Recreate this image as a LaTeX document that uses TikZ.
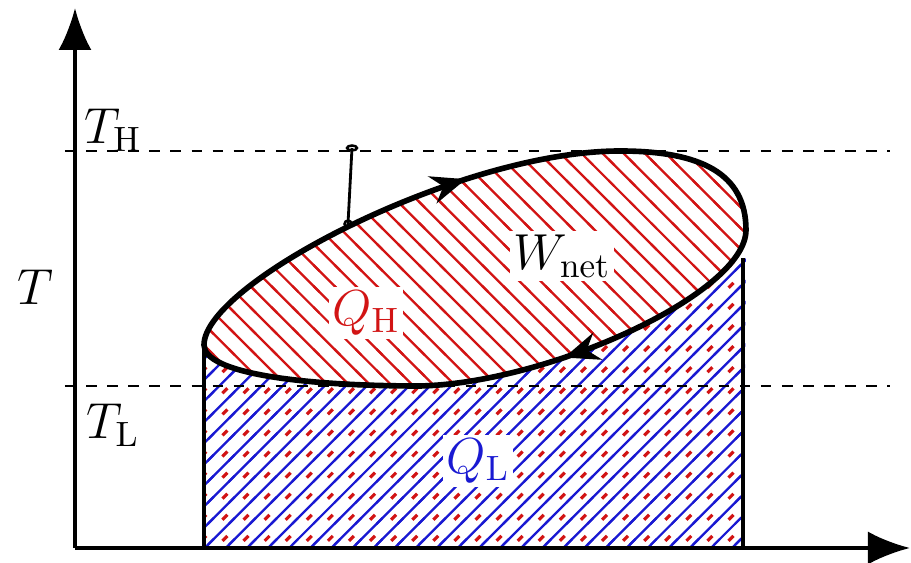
\documentclass[tikz,border=0pt]{standalone}
\usepackage{amsmath,amssymb}
\usepackage{tikz}
\usetikzlibrary{arrows.meta,patterns.meta,decorations.markings}
\definecolor{heatred}{RGB}{210, 20, 20}
\definecolor{heatblue}{RGB}{25, 25, 210}

% hatching of the two areas
\tikzdeclarepattern{
  name=hothatch,
  type=colored,
  bounding box={(-1pt,-1pt) and (7pt,7pt)},
  tile size={(6pt,6pt)},
  code={
    \draw[heatred, line width=0.65pt] (-1pt,7pt) -- (7pt,-1pt);
  }
}
\tikzdeclarepattern{
  name=coldhatch,
  type=colored,
  bounding box={(-1pt,-1pt) and (7pt,7pt)},
  tile size={(6pt,6pt)},
  code={
    \draw[heatblue, line width=0.65pt] (-1pt,-1pt) -- (7pt,7pt);
    \draw[heatred, line width=0.9pt] (3.3pt,0.3pt) -- (4.7pt,1.7pt);
  }
}

\tikzset{
  axisline/.style={line width=1pt, -{Latex[length=4.2mm,width=3.3mm]}},
  levelline/.style={dashed, line width=0.7pt},
  cycleline/.style={line width=1.6pt, postaction={decorate},
    decoration={markings,
      mark=at position 0.255 with {\arrow{Stealth[length=3.5mm,width=2.8mm]}},
      mark=at position 0.70 with {\arrow{Stealth[length=3.5mm,width=2.8mm]}}}},
  heatlabel/.style={fill=white, inner sep=1pt, font=\Large}
}

\begin{document}
\begin{tikzpicture}
  \useasboundingbox (0,0) rectangle (9.11,5.63);
  % corners of the cycle
  \coordinate (left) at (2.04,2.18);
  \coordinate (top) at (6.2,4.12);
  \coordinate (right) at (7.46,3.33);
  \coordinate (bottom) at (4.2,1.77);
  \coordinate (origin) at (0.75,0.15);

  % heat rejected: area under the lower branch
  \fill[pattern=coldhatch]
    (2.04,0.15) -- (left) .. controls (2.04,1.9) and (3.0,1.77) .. (bottom)
    .. controls (5.5,1.8) and (7.46,2.7) .. (right) -- (7.44,0.15) -- cycle;
  % net work: inside the cycle
  \fill[pattern=hothatch]
    (left) .. controls (2.04,2.8) and (4.6,4.12) .. (top)
    .. controls (7.0,4.12) and (7.46,3.9) .. (right)
    .. controls (7.46,2.7) and (5.5,1.8) .. (bottom)
    .. controls (3.0,1.77) and (2.04,1.9) .. (left);

  % temperature levels
  \draw[levelline] (0.65,4.12) -- (8.9,4.12);
  \draw[levelline] (0.65,1.77) -- (8.9,1.77);

  % sides of the area
  \draw[line width=1pt] (2.04,0.15) -- (left);
  \draw[line width=1pt] (7.43,0.15) -- (7.43,3.05);

  % the cycle
  \draw[cycleline] (left) .. controls (2.04,2.8) and (4.6,4.12) .. (top)
    .. controls (7.0,4.12) and (7.46,3.9) .. (right)
    .. controls (7.46,2.7) and (5.5,1.8) .. (bottom)
    .. controls (3.0,1.77) and (2.04,1.9) .. (left) -- cycle;

  % pin mark
  \coordinate (pinlow) at (3.48,3.39);
  \coordinate (pinhigh) at (3.52,4.15);
  \draw[line width=0.8pt] (pinlow) -- (pinhigh);
  \draw[line width=0.7pt] (pinlow) circle (0.035);
  \draw[line width=0.7pt] (pinhigh) ellipse (0.05 and 0.025);

  % axes
  \draw[axisline] (origin) -- (0.75,5.55);
  \draw[axisline] (origin) -- (9.1,0.15);

  % labels
  \node[font=\Large] (tlabel) at (0.35,2.76) {$T$};
  \node[font=\Large] (thigh) at (1.13,4.33) {$T_{\mathrm{H}}$};
  \node[font=\Large] (tlow) at (1.13,1.38) {$T_{\mathrm{L}}$};
  \node[heatlabel, text=heatred] (qhigh) at (3.66,2.5) {$Q_{\mathrm{H}}$};
  \node[heatlabel] (wnet) at (5.62,3.07) {$W_{\mathrm{net}}$};
  \node[heatlabel, text=heatblue] (qlow) at (4.78,1.02) {$Q_{\mathrm{L}}$};
\end{tikzpicture}
\end{document}
